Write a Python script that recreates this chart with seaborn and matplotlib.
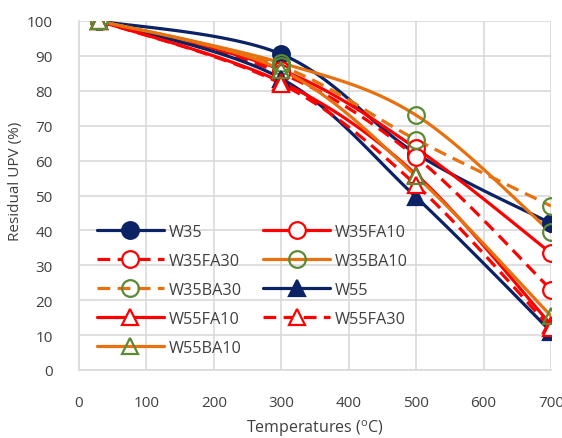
import numpy as np
import matplotlib
matplotlib.use("Agg")
import matplotlib.pyplot as plt
from matplotlib.lines import Line2D
import seaborn as sns

# ---------------------------------------------
# Data
# ---------------------------------------------
temps = [30, 300, 500, 700]

w35 = [100, 90.5, 62, 42]
w35fa10 = [100, 86, 63.5, 33.5]
w35fa30 = [100, 85, 61, 23]
w35ba10 = [100, 88, 73, 39.5]
w35ba30 = [100, 87, 66, 47]
w55 = [100, 83.5, 49.5, 11]
w55fa10 = [100, 82.5, 56, 13]
w55fa30 = [100, 82, 53, 12]
w55ba10 = [100, 86, 55.5, 15.5]

series_names = ["W35", "W35FA10", "W35FA30", "W35BA10", "W35BA30",
                "W55", "W55FA10", "W55FA30", "W55BA10"]
series_values = [w35, w35fa10, w35fa30, w35ba10, w35ba30,
                 w55, w55fa10, w55fa30, w55ba10]

# ---------------------------------------------
# Style per series
# ---------------------------------------------
navy = "#0b2265"
red = "#ff0000"
orange = "#e8710f"
green = "#5a8a34"

styles = {
    "W35":     dict(color=navy,   ls="-",  marker="o", mfc=navy,    mec=navy),
    "W35FA10": dict(color=red,    ls="-",  marker="o", mfc="white", mec=red),
    "W35FA30": dict(color=red,    ls="--", marker="o", mfc="white", mec=red),
    "W35BA10": dict(color=orange, ls="-",  marker="o", mfc="none",  mec=green),
    "W35BA30": dict(color=orange, ls="--", marker="o", mfc="none",  mec=green),
    "W55":     dict(color=navy,   ls="-",  marker="^", mfc=navy,    mec=navy),
    "W55FA10": dict(color=red,    ls="-",  marker="^", mfc="white", mec=red),
    "W55FA30": dict(color=red,    ls="--", marker="^", mfc="white", mec=red),
    "W55BA10": dict(color=orange, ls="-",  marker="^", mfc="none",  mec=green),
}
dash_seq = [4, 2.3]


def smooth_curve(x, y, n=40):
    # Excel-like smoothed line (Catmull-Rom through the points)
    p = np.column_stack([x, y]).astype(float)
    p = np.vstack([p[0], p, p[-1]])
    out = []
    t = np.linspace(0, 1, n)[:, None]
    for i in range(1, len(p) - 2):
        p0, p1, p2, p3 = p[i - 1], p[i], p[i + 1], p[i + 2]
        c1 = p1 + (p2 - p0) / 6
        c2 = p2 - (p3 - p1) / 6
        seg = ((1 - t) ** 3) * p1 + 3 * ((1 - t) ** 2) * t * c1 \
            + 3 * (1 - t) * t ** 2 * c2 + t ** 3 * p2
        out.append(seg if i == 1 else seg[1:])
    out = np.vstack(out)
    return out[:, 0], out[:, 1]


sns.set_style("white")
plt.rcParams["font.family"] = ["Open Sans", "DejaVu Sans"]

fig = plt.figure(figsize=(5.62, 4.39), dpi=100)
ax = fig.add_axes([79 / 562, 1 - 371 / 439, 472 / 562, 349 / 439])

lw = 2.3
handles = {}
for name, vals in zip(series_names, series_values):
    st = styles[name]
    sx, sy = smooth_curve(temps, vals)
    sns.lineplot(x=sx, y=sy, ax=ax, sort=False, estimator=None,
                 color=st["color"], linewidth=lw, linestyle=st["ls"],
                 dashes=False, zorder=3)
    if st["ls"] == "--":
        ax.lines[-1].set_dashes(dash_seq)
    ms = 12 if st["marker"] == "o" else 11
    ax.plot(temps, vals, linestyle="none", marker=st["marker"], markersize=ms,
            markerfacecolor=st["mfc"], markeredgecolor=st["mec"],
            markeredgewidth=1.6, zorder=4)
    h = Line2D([], [], color=st["color"], linewidth=lw, linestyle=st["ls"],
               marker=st["marker"], markersize=ms, markerfacecolor=st["mfc"],
               markeredgecolor=st["mec"], markeredgewidth=1.6)
    if st["ls"] == "--":
        h.set_dashes(dash_seq)
    handles[name] = h

ax.set_xlim(0, 700)
ax.set_ylim(0, 100)
ax.set_xticks(range(0, 701, 100))
ax.set_yticks(range(0, 101, 10))
ax.grid(True, color="#d9d9d9", linewidth=1.2)
ax.set_axisbelow(True)
for s in ["top", "right"]:
    ax.spines[s].set_visible(False)
for s in ["bottom", "left"]:
    ax.spines[s].set_color("#d9d9d9")
    ax.spines[s].set_linewidth(1.2)
ax.tick_params(axis="both", length=10, direction="inout", color="#d9d9d9",
               width=1.2, labelsize=11, labelcolor="#404040")
ax.tick_params(axis="x", pad=13)
ax.tick_params(axis="y", pad=14)

ax.set_xlabel("Temperatures ($^{\\mathregular{o}}$C)", fontsize=11.5,
              color="#404040", labelpad=5)
ax.set_ylabel("Residual UPV (%)", fontsize=11, color="#404040")
ax.yaxis.set_label_coords(-0.119, 0.544)

order = ["W35", "W35FA30", "W35BA30", "W55FA10", "W55BA10",
         "W35FA10", "W35BA10", "W55", "W55FA30"]
leg = fig.legend([handles[n] for n in order], order, ncol=2, frameon=False,
                 loc="upper left", bbox_to_anchor=(97 / 562, 1 - 225 / 439),
                 borderpad=0, borderaxespad=0, fontsize=11.7, handlelength=4.1,
                 handletextpad=0.33, columnspacing=1.3, labelspacing=0.8,
                 numpoints=1)
for t in leg.get_texts():
    t.set_color("#404040")

plt.savefig("out.png", dpi=100)
